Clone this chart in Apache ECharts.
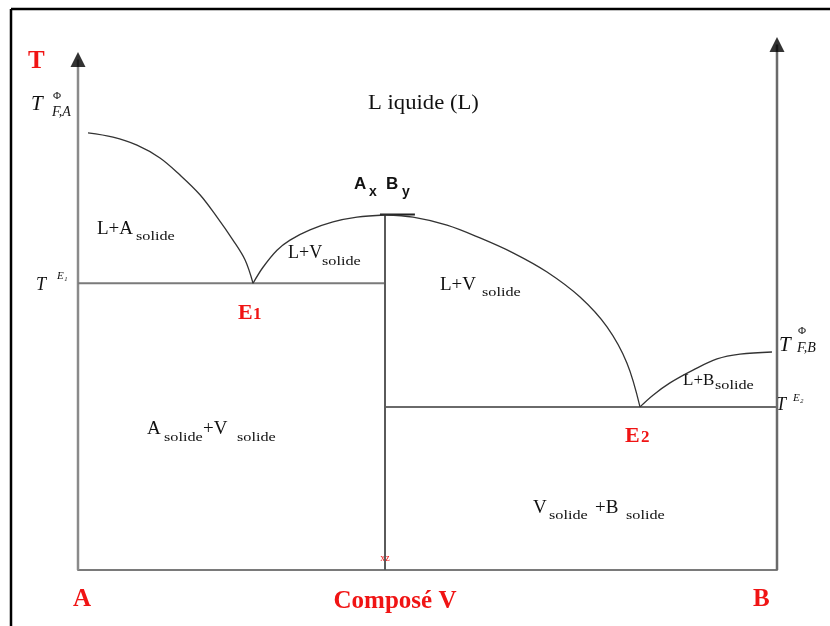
<!DOCTYPE html>
<html><head><meta charset="utf-8">
<script src="https://cdn.jsdelivr.net/npm/echarts@6/dist/echarts.min.js"></script>
<style>html,body{margin:0;padding:0;background:#fff}#c{width:830px;height:626px}</style>
</head><body><div id="c"></div>
<script>
// ---- data (composition 0..100 from A to B, temperature in arbitrary units 0..100) ----
const liquidusA = [[1.43,82.0],[5.01,81.2],[8.44,79.7],[11.73,77.3],[14.59,74.1],[17.45,70.4],[19.89,66.2],[22.17,61.9],[23.89,58.2],[25.04,53.8]];
const liquidusV1 = [[25.04,53.8],[26.47,56.8],[28.47,60.0],[30.33,61.9],[33.19,63.8],[36.48,65.3],[39.91,66.2],[43.92,66.6]];
const liquidusV2 = [[43.92,66.6],[47.93,66.2],[52.79,64.7],[57.51,62.3],[62.23,59.5],[67.10,55.9],[71.82,51.2],[75.68,45.6],[78.54,38.8],[80.40,30.6]];
const liquidusB = [[80.40,30.6],[82.26,32.8],[84.69,35.1],[87.98,37.5],[91.42,39.6],[94.71,40.5],[99.28,40.9]];
const eutectic1 = [[0,53.8],[43.92,53.8]];
const eutectic2 = [[43.92,30.6],[100,30.6]];
const compoundLine = [[43.92,0],[43.92,66.6]];
const compoundTop = [[43.2,66.7],[48.2,66.7]];
const axisLeft = [[0,0],[0,95.8]];
const axisRight = [[100,0],[100,98.6]];
const arrowTips = [[0,95.8],[100,98.6]];
const bottomLabels = ['A','Composé V','B'];
const regionLabels = ['L iquide (L)','L+A','L+V','L+V','L+B','A','+V','V','+B'];

const chart = echarts.init(document.getElementById('c'));
const SERIF = '"Liberation Serif","Times New Roman",serif';
const SANS = '"Liberation Sans",Arial,sans-serif';
const RED = '#f01414';
const g = [];
function t(text, x, y, size, o) {
  o = o || {};
  g.push({
    type: 'text', x: x, y: y, scaleX: o.sx || 1, silent: true,
    style: {
      text: text, fontSize: size, fontFamily: o.font || SERIF,
      fontWeight: o.bold ? 'bold' : 'normal', fontStyle: o.italic ? 'italic' : 'normal',
      fill: o.color || '#111', align: o.align || 'left', verticalAlign: 'middle'
    }
  });
}
function sub(x, y) { t('solide', x, y, 12, {sx: 1.35}); }

// frame
g.push({type:'line', silent:true, shape:{x1:11,y1:9,x2:830,y2:9}, style:{stroke:'#000',lineWidth:2.5}});
g.push({type:'line', silent:true, shape:{x1:11,y1:9,x2:11,y2:626}, style:{stroke:'#000',lineWidth:2.5}});

// axis titles
t('T', 28, 62, 25, {bold:true, color:RED});
t(bottomLabels[0], 73, 600, 25, {bold:true, color:RED});
t(bottomLabels[1], 395, 602, 25, {bold:true, color:RED, align:'center'});
t(bottomLabels[2], 753, 600, 25, {bold:true, color:RED});
t('xz', 385, 558, 10, {color:RED, align:'center'});

// temperature labels
t('T', 31, 104, 21, {italic:true});
t('Φ', 53, 96, 11);
t('F,A', 52, 112, 14, {italic:true});
t('T', 36, 285, 18, {italic:true});
t('E\u2081', 57, 276, 11, {italic:true});
t('T', 779, 345, 21, {italic:true});
t('Φ', 798, 331, 11);
t('F,B', 797, 348, 14, {italic:true});
t('T', 776, 405, 18, {italic:true});
t('E\u2082', 793, 398, 11, {italic:true});

// eutectic points
t('E', 238, 313, 22, {bold:true, color:RED});
t('1', 253, 315, 17, {bold:true, color:RED});
t('E', 625, 436, 22, {bold:true, color:RED});
t('2', 641, 438, 17, {bold:true, color:RED});

// compound
t('A', 354, 184, 17, {bold:true, font:SANS});
t('x', 369, 192, 14, {bold:true, font:SANS});
t('B', 386, 184, 17, {bold:true, font:SANS});
t('y', 402, 192, 14, {bold:true, font:SANS});

// regions
t(regionLabels[0], 368, 103, 21, {sx:1.08});
t(regionLabels[1], 97, 229, 19); sub(136, 237);
t(regionLabels[2], 288, 253, 18); sub(322, 262);
t(regionLabels[3], 440, 285, 19); sub(482, 293);
t(regionLabels[4], 683, 381, 17); sub(715, 386);
t(regionLabels[5], 147, 429, 19); sub(164, 438);
t(regionLabels[6], 203, 429, 19); sub(237, 438);
t(regionLabels[7], 533, 508, 19); sub(549, 516);
t(regionLabels[8], 595, 508, 19); sub(626, 516);

function ln(data, color, width, smooth) {
  return {type:'line', data:data, showSymbol:false, silent:true, smooth: smooth || 0,
    lineStyle:{color:color, width:width}, z: 3};
}

chart.setOption({
  animation: false,
  grid: {left:78, right:53, top:37, bottom:56},
  xAxis: {type:'value', min:0, max:100, axisLine:{show:true, onZero:false, lineStyle:{color:'#7a7a7a', width:2}},
    axisTick:{show:false}, axisLabel:{show:false}, splitLine:{show:false}},
  yAxis: {type:'value', min:0, max:100, axisLine:{show:false}, axisTick:{show:false}, axisLabel:{show:false}, splitLine:{show:false}},
  series: [
    ln(axisLeft, '#8a8a8a', 2.5),
    ln(axisRight, '#6a6a6a', 2.5),
    {type:'scatter', data:arrowTips, symbol:'triangle', symbolSize:[15,15], itemStyle:{color:'#000'}, silent:true, z:4},
    ln(eutectic1, '#7a7a7a', 2),
    ln(eutectic2, '#6a6a6a', 2),
    ln(compoundLine, '#5a5a5a', 2),
    ln(compoundTop, '#222', 2),
    ln(liquidusA, '#333', 1.3, 0.35),
    ln(liquidusV1, '#333', 1.3, 0.35),
    ln(liquidusV2, '#333', 1.3, 0.35),
    ln(liquidusB, '#333', 1.3, 0.35)
  ],
  graphic: g
});
</script></body></html>
